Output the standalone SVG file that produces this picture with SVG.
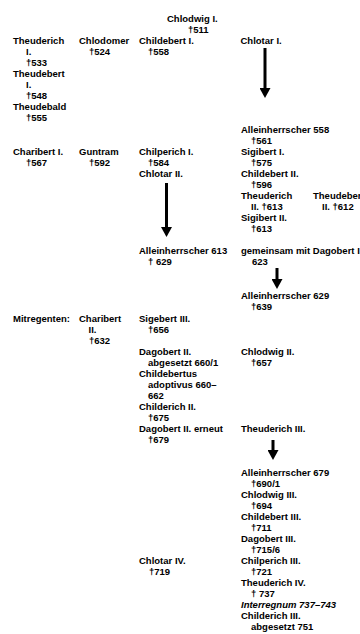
<svg xmlns="http://www.w3.org/2000/svg" width="360" height="634" viewBox="0 0 360 634">
<defs>
<style>
.t{font-family:"Liberation Sans",Arial,sans-serif;font-size:9.5px;font-weight:bold;fill:#000}
.i{font-style:italic}
.c{stroke:#000;stroke-width:3;fill:none}
</style>
<marker id="ah" markerUnits="userSpaceOnUse" viewBox="0 0 10 11" markerWidth="10" markerHeight="11" refX="0" refY="5.5" orient="auto"><path d="M0,0 L10,5.5 L0,11 z" fill="#000"/></marker>
</defs>
<rect width="360" height="634" fill="#fff"/>
<g id="chlodwig1"><text class="t"><tspan x="167" y="22">Chlodwig I.</tspan><tspan x="188" y="33">†511</tspan></text></g>
<g id="theuderich1"><text class="t"><tspan x="13" y="44">Theuderich</tspan><tspan x="26" y="55">I.</tspan><tspan x="26" y="66">†533</tspan><tspan x="13" y="77">Theudebert</tspan><tspan x="26" y="88">I.</tspan><tspan x="26" y="99">†548</tspan><tspan x="13" y="110">Theudebald</tspan><tspan x="26" y="121">†555</tspan></text></g>
<g id="chlodomer"><text class="t"><tspan x="79" y="44">Chlodomer</tspan><tspan x="89" y="55">†524</tspan></text></g>
<g id="childebert1"><text class="t"><tspan x="139" y="44">Childebert I.</tspan><tspan x="148" y="55">†558</tspan></text></g>
<g id="chlotar1"><text class="t"><tspan x="240.5" y="44">Chlotar I.</tspan></text></g>
<g id="charibert1"><text class="t"><tspan x="13" y="155">Charibert I.</tspan><tspan x="26" y="166">†567</tspan></text></g>
<g id="guntram"><text class="t"><tspan x="79" y="155">Guntram</tspan><tspan x="89" y="166">†592</tspan></text></g>
<g id="chilperich1"><text class="t"><tspan x="139" y="155">Chilperich I.</tspan><tspan x="148" y="166">†584</tspan><tspan x="139" y="177">Chlotar II.</tspan></text></g>
<g id="allein558"><text class="t"><tspan x="241" y="133">Alleinherrscher 558</tspan><tspan x="251" y="144">†561</tspan><tspan x="241" y="155">Sigibert I.</tspan><tspan x="251" y="166">†575</tspan><tspan x="241" y="177">Childebert II.</tspan><tspan x="251" y="188">†596</tspan><tspan x="241" y="199">Theuderich</tspan><tspan x="251" y="210">II. †613</tspan><tspan x="241" y="221">Sigibert II.</tspan><tspan x="251" y="232">†613</tspan></text></g>
<g id="theudebert2"><text class="t"><tspan x="313" y="199">Theudebert</tspan><tspan x="322" y="210">II. †612</tspan></text></g>
<g id="allein613"><text class="t"><tspan x="139" y="254">Alleinherrscher 613</tspan><tspan x="148" y="265">† 629</tspan></text></g>
<g id="gemeinsam"><text class="t"><tspan x="241" y="254">gemeinsam mit Dagobert I.</tspan><tspan x="252" y="265">623</tspan></text></g>
<g id="allein629"><text class="t"><tspan x="241" y="299">Alleinherrscher 629</tspan><tspan x="251" y="310">†639</tspan></text></g>
<g id="mitregenten"><text class="t"><tspan x="13" y="322">Mitregenten:</tspan></text></g>
<g id="charibert2"><text class="t"><tspan x="79" y="322">Charibert</tspan><tspan x="88.5" y="333">II.</tspan><tspan x="89" y="344">†632</tspan></text></g>
<g id="sigebert3"><text class="t"><tspan x="139" y="322">Sigebert III.</tspan><tspan x="148" y="333">†656</tspan></text></g>
<g id="dagobert2"><text class="t"><tspan x="139" y="355">Dagobert II.</tspan><tspan x="148" y="366">abgesetzt 660/1</tspan><tspan x="139" y="377">Childebertus</tspan><tspan x="148" y="388">adoptivus 660–</tspan><tspan x="148" y="399">662</tspan><tspan x="139" y="410">Childerich II.</tspan><tspan x="148" y="421">†675</tspan><tspan x="139" y="432">Dagobert II. erneut</tspan><tspan x="148" y="443">†679</tspan></text></g>
<g id="chlodwig2"><text class="t"><tspan x="241" y="355">Chlodwig II.</tspan><tspan x="251" y="366">†657</tspan></text></g>
<g id="theuderich3"><text class="t"><tspan x="241" y="432">Theuderich III.</tspan></text></g>
<g id="allein679"><text class="t"><tspan x="241" y="476">Alleinherrscher 679</tspan><tspan x="251" y="487">†690/1</tspan><tspan x="241" y="498">Chlodwig III.</tspan><tspan x="251" y="509">†694</tspan><tspan x="241" y="520">Childebert III.</tspan><tspan x="251" y="531">†711</tspan><tspan x="241" y="542">Dagobert III.</tspan><tspan x="251" y="553">†715/6</tspan><tspan x="241" y="564">Chilperich III.</tspan><tspan x="251" y="575">†721</tspan><tspan x="241" y="586">Theuderich IV.</tspan><tspan x="251" y="597">† 737</tspan><tspan x="241" y="608" class="i">Interregnum 737–743</tspan><tspan x="241" y="619">Childerich III.</tspan><tspan x="251" y="630">abgesetzt 751</tspan></text></g>
<g id="chlotar4"><text class="t"><tspan x="139" y="564">Chlotar IV.</tspan><tspan x="149" y="575">†719</tspan></text></g>
<g id="connectors">
<line class="c" x1="265" y1="48" x2="265" y2="88" marker-end="url(#ah)"/>
<line class="c" x1="166.5" y1="183" x2="166.5" y2="227" marker-end="url(#ah)"/>
<line class="c" x1="277" y1="268" x2="277" y2="279" marker-end="url(#ah)"/>
<line class="c" x1="273" y1="440" x2="273" y2="450" marker-end="url(#ah)"/>
</g>
</svg>
